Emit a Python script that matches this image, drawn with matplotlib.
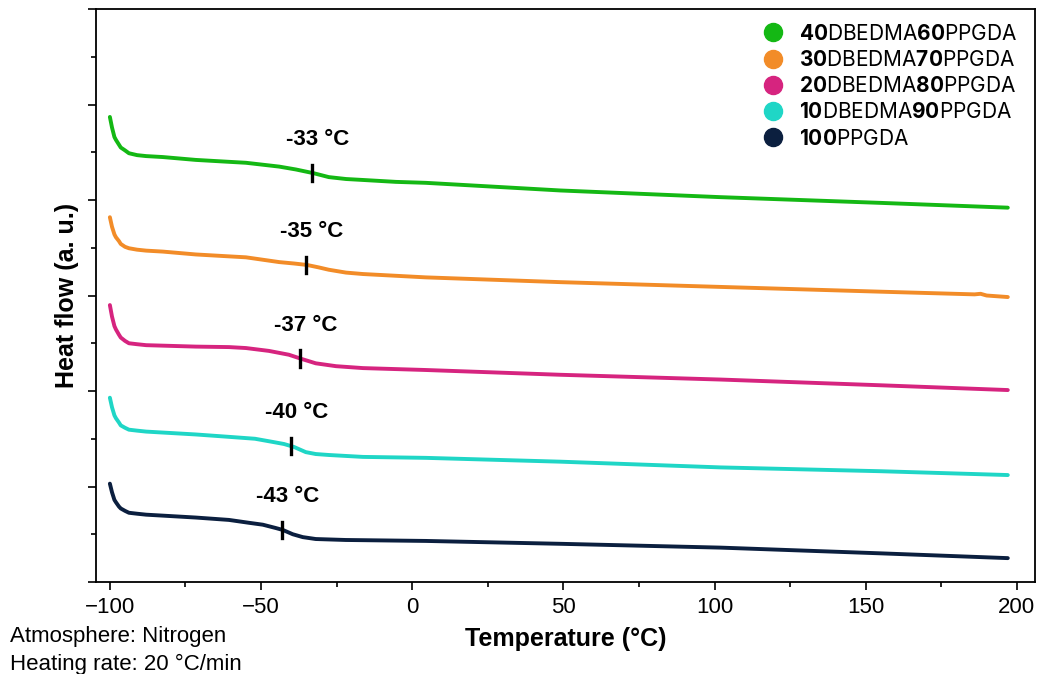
import numpy as np
import matplotlib.pyplot as plt
from matplotlib.lines import Line2D
from matplotlib.ticker import MultipleLocator

plt.rcParams['font.family'] = ['Liberation Sans', 'DejaVu Sans']
plt.rcParams['mathtext.fontset'] = 'custom'
plt.rcParams['mathtext.rm'] = 'Inter'
plt.rcParams['mathtext.bf'] = 'Inter:bold'

# DSC curves (temperature in °C, heat flow in a.u., stacked)
t_green = [-100, -99.3, -98.5, -98, -97, -96.4, -95, -93.7, -91, -88, -82.5, -71.6, -60.6, -55,
           -44, -38.5, -32.5, -27.6, -21.9, -16.3, -5.4, 4.5, 49, 102, 155, 197]
hf_green = [4.87, 4.76, 4.66, 4.63, 4.58, 4.55, 4.52, 4.49, 4.47, 4.46, 4.45, 4.42, 4.40, 4.39,
            4.35, 4.32, 4.28, 4.24, 4.22, 4.21, 4.19, 4.18, 4.10, 4.03, 3.97, 3.92]

t_orange = [-100, -99.3, -98.5, -98, -97, -96.4, -95, -93.7, -91, -88, -82.5, -71.6, -60.6, -55,
            -44, -39, -34.8, -31, -27.6, -21.9, -16.3, 4.5, 49, 102, 155, 186, 188, 190, 197]
hf_orange = [3.82, 3.72, 3.64, 3.61, 3.57, 3.54, 3.51, 3.495, 3.48, 3.47, 3.46, 3.43, 3.41, 3.40,
             3.35, 3.335, 3.32, 3.295, 3.27, 3.24, 3.225, 3.19, 3.14, 3.09, 3.04, 3.012, 3.018, 3.0, 2.984]

t_pink = [-100, -99.3, -98.5, -98, -97, -96.4, -95, -93.7, -91, -88, -82.5, -71.6, -60.6, -55,
          -47.4, -40.8, -36.5, -31.9, -25.2, -16.3, 4.5, 49, 102, 155, 197]
hf_pink = [2.90, 2.78, 2.68, 2.645, 2.59, 2.56, 2.525, 2.50, 2.49, 2.48, 2.475, 2.465, 2.46, 2.45,
           2.42, 2.38, 2.335, 2.29, 2.26, 2.24, 2.22, 2.17, 2.12, 2.06, 2.01]

t_cyan = [-100, -99.3, -98.5, -98, -97, -96.4, -95, -93.7, -91, -88, -82.5, -71.6, -60.6, -52,
          -46, -42.4, -39.1, -35.2, -31.9, -27.6, -16.3, 4.5, 49, 102, 155, 197]
hf_cyan = [1.93, 1.83, 1.745, 1.715, 1.67, 1.64, 1.615, 1.595, 1.585, 1.575, 1.565, 1.545, 1.52, 1.50,
           1.466, 1.445, 1.414, 1.36, 1.34, 1.33, 1.31, 1.30, 1.26, 1.20, 1.16, 1.12]

t_navy = [-100, -99.3, -98.5, -98, -97, -96.4, -95, -93.7, -91, -88, -82.5, -71.6, -60.6, -54,
          -49.4, -45.1, -42.8, -39.5, -36.2, -31.9, -22, 4.5, 49, 102, 155, 197]
hf_navy = [1.03, 0.94, 0.86, 0.835, 0.79, 0.77, 0.745, 0.725, 0.715, 0.705, 0.695, 0.675, 0.65, 0.62,
           0.60, 0.565, 0.545, 0.50, 0.47, 0.45, 0.44, 0.43, 0.40, 0.36, 0.30, 0.25]

labels = [r'$\mathbf{40}$DBEDMA$\mathbf{60}$PPGDA',
          r'$\mathbf{30}$DBEDMA$\mathbf{70}$PPGDA',
          r'$\mathbf{20}$DBEDMA$\mathbf{80}$PPGDA',
          r'$\mathbf{10}$DBEDMA$\mathbf{90}$PPGDA',
          r'$\mathbf{100}$PPGDA']
colors = ['#14B814', '#F28C28', '#D6247F', '#1FD6C6', '#0B1F3F']
tg = [-33, -35, -37, -40, -43]

curves = [(t_green, hf_green), (t_orange, hf_orange), (t_pink, hf_pink),
          (t_cyan, hf_cyan), (t_navy, hf_navy)]

fig = plt.figure(figsize=(10.42, 6.74), dpi=100)
ax = fig.add_axes([0.0921, 0.1365, 0.9012, 0.8501])

for (t, hf), c, g in zip(curves, colors, tg):
    ax.plot(t, hf, color=c, lw=2.8, solid_capstyle='round', solid_joinstyle='round')
    # Tg marker: short black bar on the curve
    yg = np.interp(g, t, hf)
    ax.plot([g, g], [yg - 0.085, yg + 0.085], color='black', lw=2.4)
    ax.annotate(f'{g} °C', xy=(g, yg), xytext=(4, 24), textcoords='offset points',
                ha='center', va='center', fontsize=16, fontweight='bold')

ax.set_xlim(-104.6, 206)
ax.set_ylim(0, 6)
ax.xaxis.set_major_locator(MultipleLocator(50))
ax.xaxis.set_minor_locator(MultipleLocator(25))
ax.yaxis.set_major_locator(MultipleLocator(1))
ax.yaxis.set_minor_locator(MultipleLocator(0.5))
ax.set_yticklabels([])
ax.tick_params(which='major', length=6, width=1.2, labelsize=16, pad=5)
ax.tick_params(which='minor', length=3.5, width=1.2)
for s in ax.spines.values():
    s.set_linewidth(1.3)

ax.set_xlabel('Temperature (°C)', fontsize=18, fontweight='bold', labelpad=6)
ax.set_ylabel('Heat flow (a. u.)', fontsize=18, fontweight='bold', labelpad=1)

handles = [Line2D([], [], ls='none', marker='o', ms=13, color=c) for c in colors]
ax.legend(handles, labels, loc='upper right', frameon=False,
          prop={'family': 'Inter', 'size': 15}, handlelength=1.0,
          handletextpad=0.75, labelspacing=0.3, borderaxespad=0.3,
          bbox_to_anchor=(0.997, 1.0))

fig.text(0.01, 0.0549, 'Atmosphere: Nitrogen', fontsize=16, va='center')
fig.text(0.01, 0.0148, 'Heating rate: 20 °C/min', fontsize=16, va='center')

fig.savefig('out.png', dpi=100)
